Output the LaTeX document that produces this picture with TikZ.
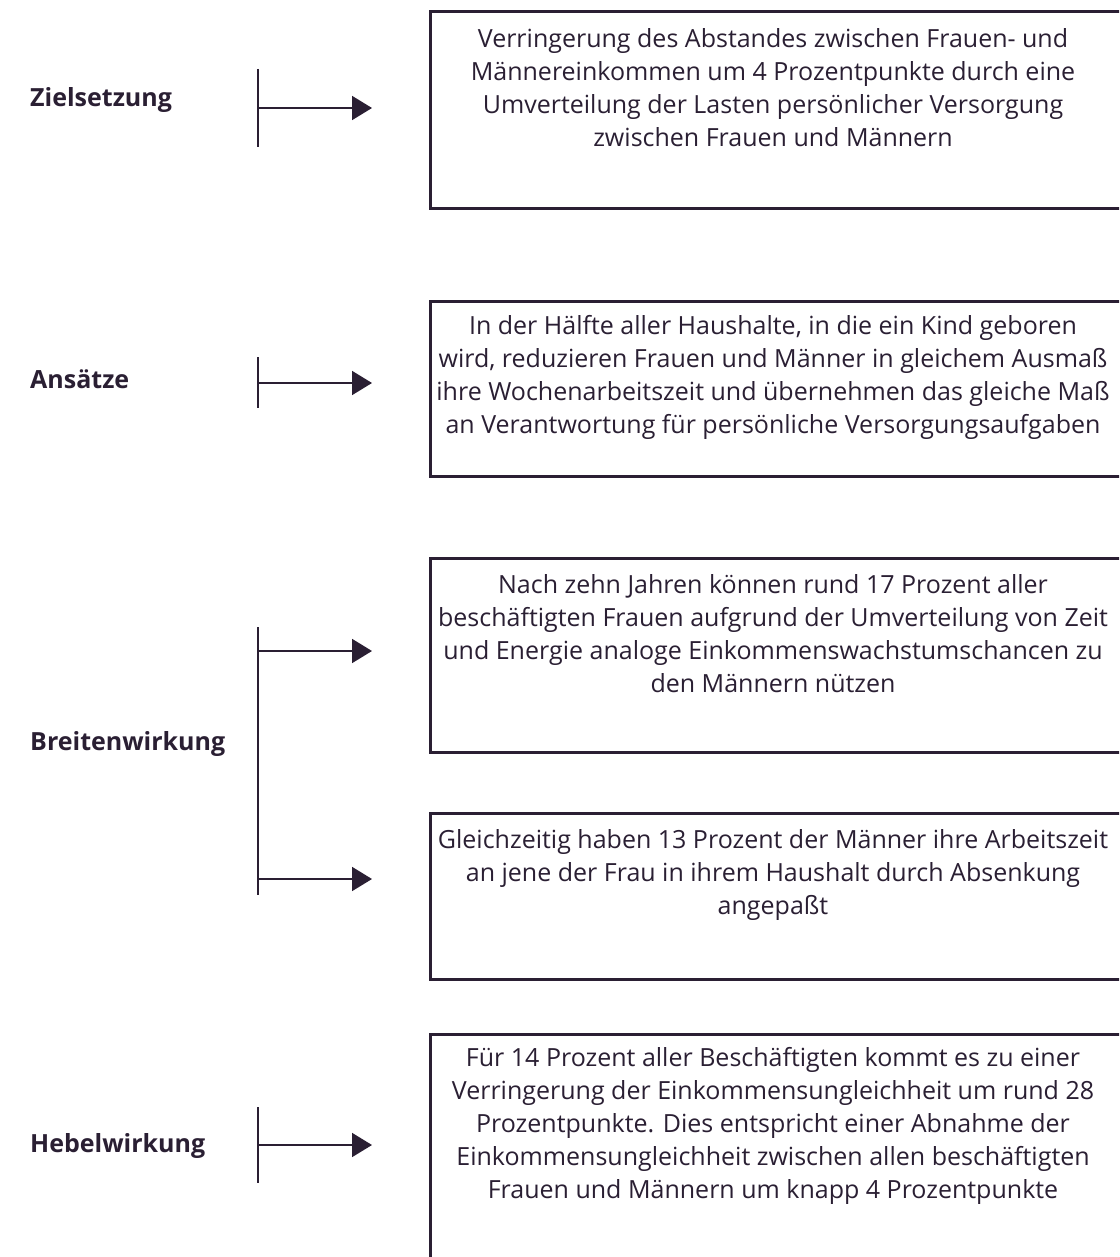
\documentclass[tikz,border=0pt]{standalone}
\usepackage{fontspec}
\setmainfont{Open Sans}
\usetikzlibrary{arrows.meta}
\definecolor{ink}{HTML}{2A1F33}
\tikzset{
  boxframe/.style={draw=ink, line width=2.6pt, inner sep=0pt, minimum width=693pt, anchor=north west},
  boxtext/.style={anchor=north, inner sep=0pt, align=center, text=ink, font=\fontsize{25}{33}\selectfont},
  lbl/.style={anchor=west, inner sep=0pt, text=ink, font=\fontsize{25}{30}\selectfont\bfseries},
  bar/.style={draw=ink, line width=1.8pt},
  arr/.style={draw=ink, line width=1.8pt, -{Triangle[length=20pt,width=24pt]}}
}
\newcommand{\fs}{\rule{0pt}{22pt}}
\begin{document}
\begin{tikzpicture}[x=1pt,y=-1pt]
\useasboundingbox (0,0) rectangle (1119,1257);
\clip (0,0) rectangle (1119,1257);

% boxes
\node[boxframe, minimum height=197pt] (box1) at (429,10) {};
\node[boxframe, minimum height=175pt] (box2) at (429,300) {};
\node[boxframe, minimum height=194pt] (box3) at (429,557) {};
\node[boxframe, minimum height=166pt] (box4) at (429,812) {};
\node[boxframe, minimum height=260pt] (box5) at (429,1033) {};

% box texts
\node[boxtext] (t1) at (773,25) {\fs Verringerung des Abstandes zwischen Frauen- und\\Männereinkommen um 4 Prozentpunkte durch eine\\Umverteilung der Lasten persönlicher Versorgung\\zwischen Frauen und Männern};
\node[boxtext] (t2) at (773,312) {\fs In der Hälfte aller Haushalte, in die ein Kind geboren\\wird, reduzieren Frauen und Männer in gleichem Ausmaß\\ihre Wochenarbeitszeit und übernehmen das gleiche Maß\\an Verantwortung für persönliche Versorgungsaufgaben};
\node[boxtext] (t3) at (773,571) {\fs Nach zehn Jahren können rund 17 Prozent aller\\beschäftigten Frauen aufgrund der Umverteilung von Zeit\\und Energie analoge Einkommenswachstumschancen zu\\den Männern nützen};
\node[boxtext] (t4) at (773,826) {\fs Gleichzeitig haben 13 Prozent der Männer ihre Arbeitszeit\\an jene der Frau in ihrem Haushalt durch Absenkung\\angepaßt};
\node[boxtext] (t5) at (773,1044) {\fs Für 14 Prozent aller Beschäftigten kommt es zu einer\\Verringerung der Einkommensungleichheit um rund 28\\Prozentpunkte. Dies entspricht einer Abnahme der\\Einkommensungleichheit zwischen allen beschäftigten\\Frauen und Männern um knapp 4 Prozentpunkte};

% labels
\node[lbl] (l1) at (30,100) {Zielsetzung};
\node[lbl] (l2) at (30,379) {Ansätze};
\node[lbl] (l3) at (30,744) {Breitenwirkung};
\node[lbl] (l4) at (30,1146) {Hebelwirkung};

% bars and arrows
\coordinate (b1t) at (258,69);  \coordinate (b1b) at (258,147);
\coordinate (b1m) at (258,108); \coordinate (e1) at (372,108);
\draw[bar] (b1t) -- (b1b);
\draw[arr] (b1m) -- (e1);

\coordinate (b2t) at (258,357);  \coordinate (b2b) at (258,408);
\coordinate (b2m) at (258,383); \coordinate (e2) at (372,383);
\draw[bar] (b2t) -- (b2b);
\draw[arr] (b2m) -- (e2);

\coordinate (b3t) at (258,627);  \coordinate (b3b) at (258,895);
\coordinate (b3m1) at (258,651); \coordinate (e31) at (372,651);
\coordinate (b3m2) at (258,879); \coordinate (e32) at (372,879);
\draw[bar] (b3t) -- (b3b);
\draw[arr] (b3m1) -- (e31);
\draw[arr] (b3m2) -- (e32);

\coordinate (b4t) at (258,1107);  \coordinate (b4b) at (258,1183);
\coordinate (b4m) at (258,1145); \coordinate (e4) at (372,1145);
\draw[bar] (b4t) -- (b4b);
\draw[arr] (b4m) -- (e4);
\end{tikzpicture}
\end{document}
